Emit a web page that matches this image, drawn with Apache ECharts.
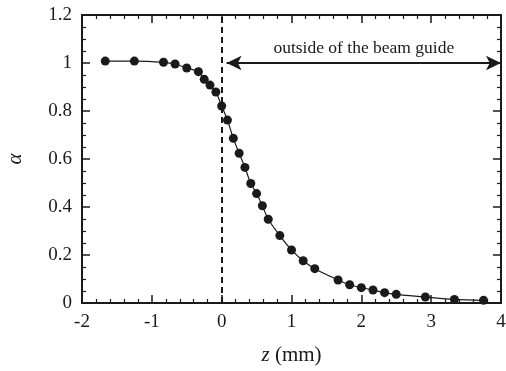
<!DOCTYPE html>
<html>
<head>
<meta charset="utf-8">
<script src="https://cdn.jsdelivr.net/npm/echarts@6/dist/echarts.min.js"></script>
<style>
  html, body { margin: 0; padding: 0; background: #fff; }
  #chart { width: 506px; height: 371px; }
</style>
</head>
<body>
<div id="chart"></div>
<script>
// z (mm) and alpha
const zValues = [-1.667, -1.25, -0.833, -0.667, -0.5, -0.333, -0.25, -0.167, -0.083, 0,
  0.083, 0.167, 0.25, 0.333, 0.417, 0.5, 0.583, 0.667, 0.833, 1.0, 1.167, 1.333,
  1.667, 1.833, 2.0, 2.167, 2.333, 2.5, 2.917, 3.333, 3.75];
const alphaValues = [1.008, 1.008, 1.003, 0.996, 0.979, 0.964, 0.932, 0.908, 0.879, 0.821,
  0.762, 0.686, 0.624, 0.565, 0.498, 0.456, 0.405, 0.349, 0.281, 0.221, 0.176, 0.143,
  0.096, 0.076, 0.064, 0.054, 0.043, 0.036, 0.025, 0.015, 0.011];
const arrowStart = [0.07, 1];
const arrowEnd = [4, 1];
const annotation = 'outside of the beam guide';

const font = 'Liberation Serif';
const black = '#1a1a1a';

const chart = echarts.init(document.getElementById('chart'), null, { renderer: 'canvas' });

const baseX = {
  type: 'value', min: -2, max: 4, interval: 1,
  axisLine: { show: true, onZero: false, lineStyle: { color: black, width: 2 } },
  axisTick: { inside: true, length: 8, lineStyle: { color: black, width: 1.5 } },
  minorTick: { show: true, splitNumber: 5, length: 4, lineStyle: { color: black, width: 1.2 } },
  splitLine: { show: false },
};
const baseY = {
  type: 'value', min: 0, max: 1.2, interval: 0.2,
  axisLine: { show: true, onZero: false, lineStyle: { color: black, width: 2 } },
  axisTick: { inside: true, length: 8, lineStyle: { color: black, width: 1.5 } },
  minorTick: { show: true, splitNumber: 4, length: 4, lineStyle: { color: black, width: 1.2 } },
  splitLine: { show: false },
};

const option = {
  animation: false,
  backgroundColor: '#fff',
  grid: { left: 82, right: 5, top: 15, bottom: 68, outerBoundsMode: 'none', containLabel: false },
  xAxis: [
    Object.assign({}, baseX, {
      position: 'bottom',
      axisLabel: { margin: 10, color: black, fontFamily: font, fontSize: 19 },
      name: '{i|z} (mm)',
      nameLocation: 'middle',
      nameGap: 42,
      nameTextStyle: {
        color: black, fontFamily: font, fontSize: 21,
        rich: { i: { fontStyle: 'italic', fontFamily: font, fontSize: 21, color: black } }
      }
    }),
    Object.assign({}, baseX, { position: 'top', axisLabel: { show: false } })
  ],
  yAxis: [
    Object.assign({}, baseY, {
      position: 'left',
      axisLabel: { margin: 10, color: black, fontFamily: font, fontSize: 19 },
      name: 'α',
      nameLocation: 'middle',
      nameGap: 56,
      nameRotate: 90,
      nameTextStyle: { color: black, fontFamily: font, fontSize: 21, fontStyle: 'italic' }
    }),
    Object.assign({}, baseY, { position: 'right', axisLabel: { show: false } })
  ],
  series: [
    {
      type: 'line',
      data: zValues.map((z, i) => [z, alphaValues[i]]),
      smooth: 0.3,
      symbol: 'circle',
      symbolSize: 9,
      z: 3,
      itemStyle: { color: black },
      lineStyle: { color: black, width: 1.2 },
      markLine: {
        silent: true,
        animation: false,
        symbol: ['none', 'none'],
        lineStyle: { type: [6, 4], width: 2, color: black },
        label: { show: false },
        data: [{ xAxis: 0 }]
      }
    },
    {
      type: 'line',
      data: [],
      markLine: {
        silent: true,
        animation: false,
        symbol: ['arrow', 'arrow'],
        symbolSize: [11, 15],
        lineStyle: { type: 'solid', width: 2, color: black },
        label: {
          show: true, formatter: annotation, position: 'insideMiddleTop',
          distance: 6, color: black, fontFamily: font, fontSize: 17.5
        },
        data: [[{ coord: arrowStart }, { coord: arrowEnd }]]
      }
    }
  ]
};

chart.setOption(option);
</script>
</body>
</html>
